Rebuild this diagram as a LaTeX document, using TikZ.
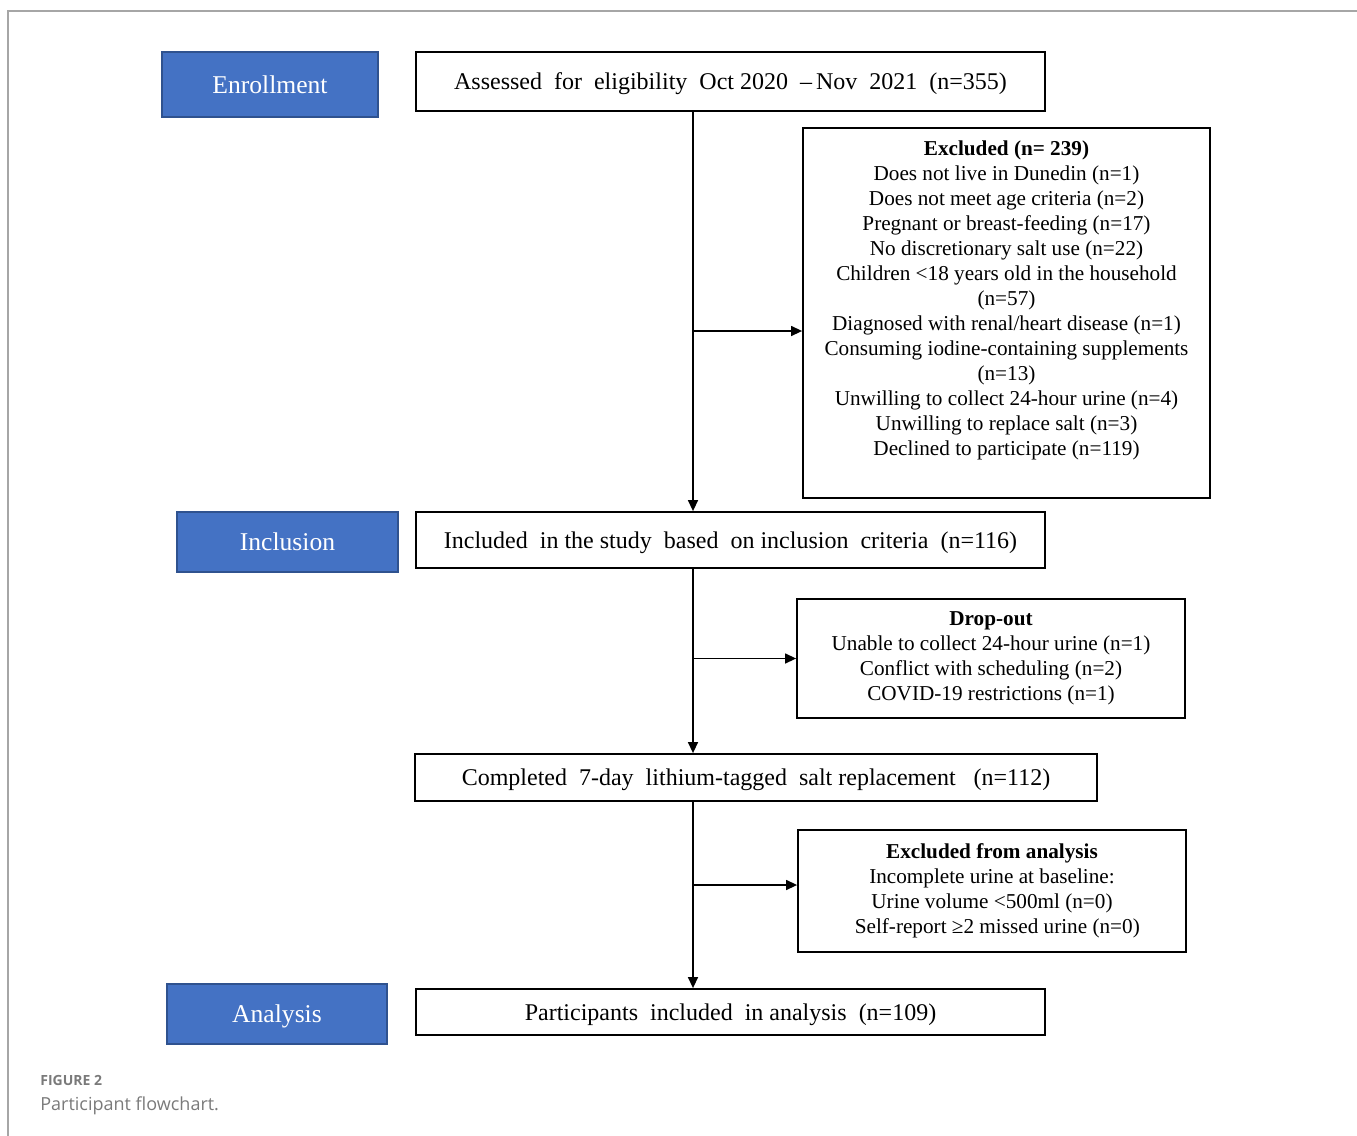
\documentclass[tikz,border=0pt]{standalone}
\usepackage{fontspec}
\setmainfont{Liberation Serif}
\newfontfamily\capfont{Open Sans}
\usetikzlibrary{arrows.meta,positioning}
\definecolor{stageblue}{HTML}{4472C4}
\definecolor{stageedge}{HTML}{2F528F}
\definecolor{framegray}{HTML}{A6A6A6}
\definecolor{capgray}{HTML}{7A7A7A}

\begin{document}
\begin{tikzpicture}[x=0.5pt, y=-0.5pt, >={Triangle[length=5.5pt,width=5pt]},
  stage/.style={draw=stageedge, line width=0.9pt, fill=stageblue, text=white, font=\fontsize{12.8}{14}\selectfont, inner sep=0pt, text depth=0pt},
  mainbox/.style={draw, line width=0.9pt, inner sep=0pt, text depth=0pt, font=\fontsize{12}{14}\selectfont},
  sidetext/.style={inner sep=0pt, align=center, font=\fontsize{10.6}{12.5}\selectfont},
  sidebox/.style={sidetext, draw, line width=0.9pt},
  flow/.style={->, line width=0.7pt}]
\useasboundingbox (0,0) rectangle (1357,1136);
\draw[framegray, line width=0.6pt] (1357,11) -- (8,11) -- (8,1136);

% stage labels
\node[stage, minimum width=108pt, minimum height=32.5pt] (enrol) at (270,84.5) {Enrollment};
\node[stage, minimum width=110.5pt, minimum height=30pt] (inclusion) at (287.5,542) {Inclusion};
\node[stage, minimum width=110pt, minimum height=30pt] (analysis) at (277,1014) {Analysis};

% main column
\node[mainbox, minimum width=314.5pt, minimum height=29.5pt] (assess) at (730.5,81.5) {Assessed\ \ for\ \ eligibility\ \ Oct\ 2020\ \ --\,Nov\ \ 2021\ \ (n=355)};
\node[mainbox, minimum width=314.5pt, minimum height=28pt] (incl) at (730.5,540) {Included\ \ in the\ study\ \ based\ \ on\ inclusion\ \ criteria\ \ (n=116)};
\node[mainbox, minimum width=341pt, minimum height=23.5pt] (compl) at (756,777.5) {Completed\ \ 7-day\ \ lithium-tagged\ \ salt\ replacement\ \ \ (n=112)};
\node[mainbox, minimum width=314.5pt, minimum height=23pt] (final) at (730.5,1012) {Participants\ \ included\ \ in analysis\ \ (n=109)};

% side boxes
\node[sidebox, minimum width=203.5pt, minimum height=185pt] (excl) at (1006.5,313) {};
\node[sidetext, anchor=north, yshift=-6.5pt] (excltext) at (excl.north) {\textbf{Excluded (n= 239)}\\
  Does not live in Dunedin (n=1)\\
  Does not meet age criteria (n=2)\\
  Pregnant or breast-feeding (n=17)\\
  No discretionary salt use (n=22)\\
  Children <18 years old in the household\\
  (n=57)\\
  Diagnosed with renal/heart disease (n=1)\\
  Consuming iodine-containing supplements\\
  (n=13)\\
  Unwilling to collect 24-hour urine (n=4)\\
  Unwilling to replace salt (n=3)\\
  Declined to participate (n=119)};
\node[sidebox, minimum width=194pt, minimum height=59.5pt] (drop) at (991,658.5) {\textbf{Drop-out}\\
  Unable to collect 24-hour urine (n=1)\\
  Conflict with scheduling (n=2)\\
  COVID-19 restrictions (n=1)};
\node[sidebox, minimum width=194pt, minimum height=61pt] (exana) at (992,891) {\textbf{Excluded from analysis}\\
  Incomplete urine at baseline:\\
  Urine volume <500ml (n=0)\\
  \ \ Self-report ≥2 missed urine (n=0)};

% connectors
\coordinate (spine) at (693,0);
\coordinate (j1) at (693,331);
\coordinate (j3) at (693,885);
\draw[flow] (assess.south -| spine) -- (incl.north -| spine);
\draw[flow] (incl.south -| spine) -- (compl.north -| spine);
\draw[flow] (compl.south -| spine) -- (final.north -| spine);
\draw[flow] (j1) -- (j1 -| excl.west);
\draw[flow] (spine |- drop) -- (drop.west);
\draw[flow] (j3) -- (j3 -| exana.west);

% caption
\node[anchor=west, inner sep=0pt, text=capgray, font=\capfont\fontsize{7}{8}\selectfont\bfseries] (fig) at (40,1080) {FIGURE 2};
\node[anchor=west, inner sep=0pt, text=capgray, font=\capfont\fontsize{9}{10}\selectfont] (cap) at (40,1106) {Participant flowchart.};
\end{tikzpicture}
\end{document}
